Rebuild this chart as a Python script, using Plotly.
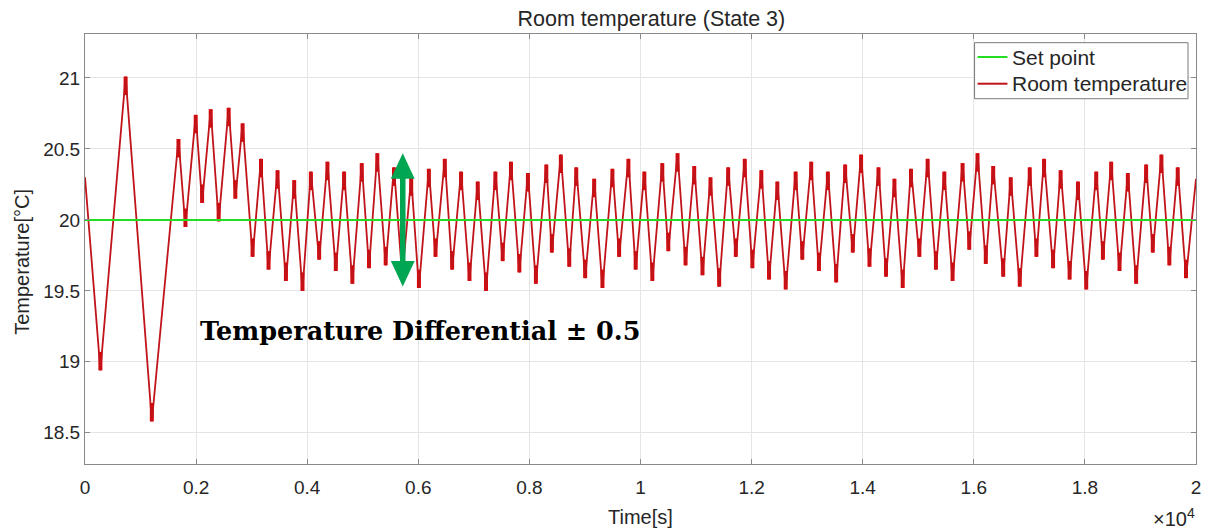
import plotly.graph_objects as go

# ---- axis ticks -------------------------------------------------------------
x_tick_vals = [0, 2000, 4000, 6000, 8000, 10000, 12000, 14000, 16000, 18000, 20000]
x_tick_text = ["0", "0.2", "0.4", "0.6", "0.8", "1", "1.2", "1.4", "1.6", "1.8", "2"]
y_tick_vals = [18.5, 19, 19.5, 20, 20.5, 21]

# ---- set point --------------------------------------------------------------
setpoint_time = [0, 20000]
setpoint_temp = [20.0, 20.0]

# ---- room temperature: turning points of the controlled signal --------------
room_time = [
    0, 277, 731, 1203, 1683, 1808, 1993, 2108, 2263, 2406, 2586, 2706, 2837,
    3017, 3168, 3304, 3466, 3617, 3766, 3915, 4066, 4215, 4364, 4515, 4664,
    4813, 4982, 5113, 5262, 5413, 5562, 5711, 5872, 6011, 6190, 6310, 6477,
    6609, 6770, 6921, 7070, 7219, 7388, 7519, 7668, 7819, 7973, 8117, 8304,
    8404, 8566, 8717, 8843, 9004, 9166, 9315, 9494, 9615, 9782, 9913, 10069,
    10213, 10392, 10500, 10667, 10811, 10967, 11116, 11260, 11416, 11578,
    11716, 11877, 12014, 12175, 12314, 12463, 12614, 12793, 12912, 13073,
    13212, 13373, 13522, 13684, 13822, 13971, 14122, 14284, 14420, 14571,
    14720, 14869, 15020, 15169, 15318, 15469, 15618, 15798, 15918, 16067,
    16216, 16349, 16529, 16665, 16827, 17007, 17127, 17265, 17427, 17563,
    17725, 17875, 18024, 18204, 18324, 18473, 18623, 18773, 18922, 19102,
    19222, 19377, 19520, 19671, 19820, 20000,
]
room_temp = [
    20.30, 18.94, 21.01, 18.58, 20.57, 19.95, 20.74, 20.12, 20.78, 19.99, 20.79, 20.15, 20.68,
    19.74, 20.43, 19.65, 20.35, 19.57, 20.28, 19.50, 20.34, 19.72, 20.41, 19.64, 20.34,
    19.55, 20.40, 19.66, 20.47, 19.68, 20.37, 19.60, 20.30, 19.52, 20.36, 19.74, 20.43,
    19.65, 20.34, 19.57, 20.27, 19.50, 20.34, 19.71, 20.41, 19.63, 20.33, 19.55, 20.39,
    19.77, 20.46, 19.67, 20.37, 19.59, 20.29, 19.52, 20.36, 19.74, 20.43, 19.65, 20.34,
    19.57, 20.40, 19.78, 20.47, 19.68, 20.38, 19.61, 20.30, 19.53, 20.37,
    19.74, 20.43, 19.66, 20.35, 19.58, 20.27, 19.51, 20.34, 19.72, 20.41,
    19.64, 20.34, 19.56, 20.39, 19.77, 20.46, 19.67, 20.37, 19.60, 20.29,
    19.52, 20.36, 19.74, 20.43, 19.65, 20.34, 19.57, 20.40, 19.79, 20.47,
    19.69, 20.38, 19.60, 20.30, 19.53, 20.37, 19.74, 20.43, 19.66, 20.35,
    19.58, 20.27, 19.51, 20.34, 19.72, 20.41, 19.64, 20.33, 19.55, 20.39,
    19.77, 20.46, 19.68, 20.37, 19.59, 20.29,
]

# size of the final switching step held at each turning point
switch_step = 0.13

setpoint = 20.0
differential = 0.47

# switching band drawn on the inner side of every peak / trough
band_up = [0.0] * len(room_temp)
band_down = [0.0] * len(room_temp)
for i in range(1, len(room_temp) - 1):
    if room_temp[i] > room_temp[i - 1] and room_temp[i] > room_temp[i + 1]:
        band_down[i] = switch_step
    elif room_temp[i] < room_temp[i - 1] and room_temp[i] < room_temp[i + 1]:
        band_up[i] = switch_step

AXIS_GREY = "#8a8a8a"
TEXT = "#262626"
FONT = "Liberation Sans, Arial, sans-serif"
RED_LINE = "#c0141a"
GREEN_LINE = "#22dd22"

fig = go.Figure()

fig.add_trace(go.Scatter(
    x=room_time, y=room_temp, mode="lines", name="Room temperature",
    line=dict(color=RED_LINE, width=1.8),
    error_y=dict(type="data", symmetric=False, array=band_up, arrayminus=band_down,
                 color="#e00000", thickness=4, width=0),
    showlegend=False,
))
fig.add_trace(go.Scatter(
    x=setpoint_time, y=setpoint_temp, mode="lines", name="Set point",
    line=dict(color=GREEN_LINE, width=2),
    showlegend=False,
))

# green double arrow marking the differential band around the set point
arrow_t = 5720
head_half_w = 215
head_h = 0.18
shaft_half_w = 50
top = setpoint + differential
bot = setpoint - differential
green = "#00a651"
fig.add_shape(type="rect", xref="x", yref="y",
              x0=arrow_t - shaft_half_w, x1=arrow_t + shaft_half_w,
              y0=bot + head_h * 0.9, y1=top - head_h * 0.9,
              fillcolor=green, line=dict(width=0))
fig.add_shape(type="path", xref="x", yref="y",
              path=f"M {arrow_t},{top} L {arrow_t - head_half_w},{top - head_h} "
                   f"L {arrow_t + head_half_w},{top - head_h} Z",
              fillcolor=green, line=dict(width=0))
fig.add_shape(type="path", xref="x", yref="y",
              path=f"M {arrow_t},{bot} L {arrow_t - head_half_w},{bot + head_h} "
                   f"L {arrow_t + head_half_w},{bot + head_h} Z",
              fillcolor=green, line=dict(width=0))

# legend box drawn in paper coordinates
legend_entries = [("Set point", GREEN_LINE, 0.9465), ("Room temperature", RED_LINE, 0.8844)]
fig.add_shape(type="rect", xref="paper", yref="paper", x0=0.8007, x1=0.9928,
              y0=0.8495, y1=0.9798, fillcolor="white",
              line=dict(color="#7a7a7a", width=1), layer="above")
for label, colour, ly in legend_entries:
    fig.add_shape(type="line", xref="paper", yref="paper", x0=0.8034, x1=0.8303,
                  y0=ly, y1=ly, line=dict(color=colour, width=2), layer="above")
    fig.add_annotation(text=label, xref="paper", yref="paper", x=0.8330, y=ly,
                       xanchor="left", yanchor="middle", showarrow=False,
                       font=dict(family=FONT, size=21, color=TEXT))

axis_common = dict(
    showline=True, linecolor=AXIS_GREY, linewidth=1, mirror="allticks",
    ticks="inside", ticklen=5, tickcolor=AXIS_GREY,
    showgrid=True, gridcolor="#e4e4e4", gridwidth=1, zeroline=False,
    tickfont=dict(family=FONT, size=19, color=TEXT),
)

fig.update_layout(
    width=1213, height=531,
    margin=dict(l=85, r=14, t=34, b=67),
    paper_bgcolor="white", plot_bgcolor="white",
    title=dict(text="Room temperature (State 3)", x=0.537, xanchor="center",
               y=1 - 18 / 531, yanchor="middle", yref="container",
               font=dict(family=FONT, size=21.5, color=TEXT)),
    xaxis=dict(range=[0, 20000], tickvals=x_tick_vals, ticktext=x_tick_text,
               ticklabelstandoff=6, **axis_common),
    yaxis=dict(range=[18.28, 21.31], tickvals=y_tick_vals, **axis_common),
    showlegend=False,
)

fig.add_annotation(text="Time[s]", xref="paper", yref="paper", x=0.5, y=-0.1226,
                   xanchor="center", yanchor="middle", showarrow=False,
                   font=dict(family=FONT, size=20, color=TEXT))
fig.add_annotation(text="Temperature[°C]", xref="paper", yref="paper", x=-0.0568, y=0.47,
                   xanchor="center", yanchor="middle", showarrow=False, textangle=-90,
                   font=dict(family=FONT, size=20, color=TEXT))
fig.add_annotation(text="×10<sup>4</sup>", xref="paper", yref="paper", x=1.001, y=-0.125,
                   xanchor="right", yanchor="middle", showarrow=False,
                   font=dict(family=FONT, size=20, color=TEXT))
fig.add_annotation(text="<b>Temperature Differential ± 0.5</b>", xref="x", yref="y",
                   x=6030, y=19.22, xanchor="center", yanchor="middle", showarrow=False,
                   font=dict(family="DejaVu Serif, serif", size=25.5, color="#000000"))

fig.write_html("out.html")
